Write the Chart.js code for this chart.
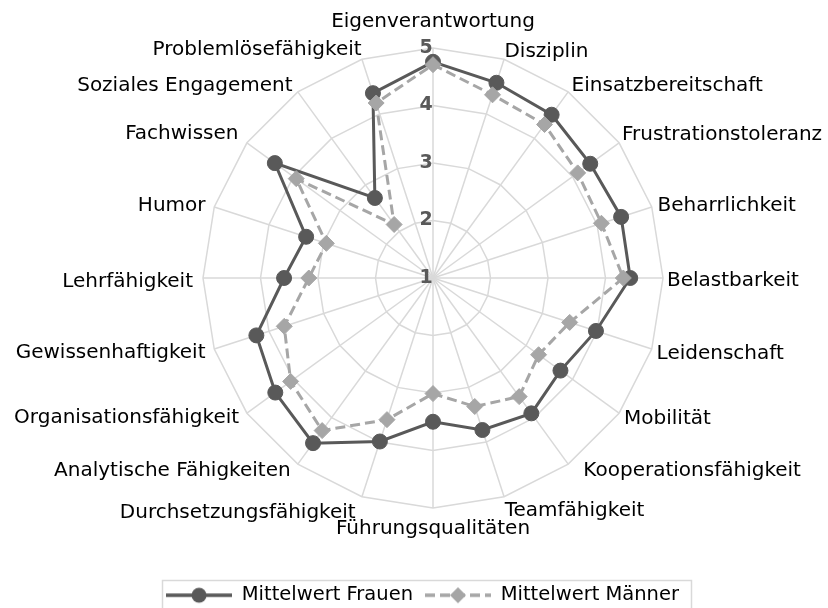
<!DOCTYPE html>
<html>
<head>
<meta charset="utf-8">
<script src="https://cdn.jsdelivr.net/npm/chart.js@4/dist/chart.umd.min.js"></script>
<style>
html,body{margin:0;padding:0;background:#ffffff;}
#wrap{width:828px;height:608px;position:relative;}
</style>
</head>
<body>
<div id="wrap"><canvas id="c" width="828" height="608"></canvas></div>
<script>
// ---- data ----
const categories = [
  'Eigenverantwortung','Disziplin','Einsatzbereitschaft','Frustrationstoleranz','Beharrlichkeit',
  'Belastbarkeit','Leidenschaft','Mobilität','Kooperationsfähigkeit','Teamfähigkeit',
  'Führungsqualitäten','Durchsetzungsfähigkeit','Analytische Fähigkeiten','Organisationsfähigkeit','Gewissenhaftigkeit',
  'Lehrfähigkeit','Humor','Fachwissen','Soziales Engagement','Problemlösefähigkeit'
];
const frauen = [4.76, 4.57, 4.51, 4.38, 4.44, 4.43, 3.98, 3.74, 3.91, 3.78,
                3.50, 3.99, 4.55, 4.39, 4.23, 3.59, 3.32, 4.40, 2.72, 4.38];
const maenner = [4.71, 4.35, 4.30, 4.11, 4.08, 4.31, 3.50, 3.27, 3.55, 3.35,
                 3.01, 3.59, 4.28, 4.06, 3.72, 3.16, 2.95, 3.94, 2.15, 4.20];
const tickValues = [1, 2, 3, 4, 5];
const seriesNames = ['Mittelwert Frauen', 'Mittelwert Männer'];

// ---- layout / style ----
const FRAME = { cx: 433, cy: 278, r: 230, tickShift: -7 };
// label placement tweaks (layout only): gap from outer ring, then small nudges
const LABEL_GAP = [16, -2, -1, 0, 4, 4, 3, 0, 2, 2, 7, 4, 2, 1, 5, 10, 5, 3, 2, 1];
const LABEL_DX  = [0, 1, 4, 3, 2, 0, 2, 5, 14, 0, 0, -5, -6, -7, -4, 0, -4, -6, -4, 0];
const LABEL_DY  = [2, 3, 5, 4, 12, 3, -8, -6, -7, 0, 2, 0, -7, -8, -10, 4, 12, 5, 7, 3];
const FONT = 'DejaVu Sans';
const DARK = '#595959';
const LIGHT = '#a6a6a6';
const GRID = '#d9d9d9';
const TICK_SIZE = 19;
const TICK_EXTRA = (TICK_SIZE + 4) / 2; // library adds half the tick backdrop height

const BaseRadial = Chart.RadialLinearScale || Chart.registry.getScale('radialLinear');
class FixedRadialScale extends BaseRadial {
  setCenterPoint() {
    this.xCenter = FRAME.cx;
    this.yCenter = FRAME.cy;
    this.drawingArea = FRAME.r;
  }
  fit() {
    super.fit();
    const items = this._pointLabelItems || [];
    items.forEach((it, i) => {
      const dx = LABEL_DX[i] || 0, dy = LABEL_DY[i] || 0;
      it.x += dx; it.left += dx; it.right += dx;
      it.y += dy; it.top += dy; it.bottom += dy;
    });
  }
  drawLabels() {
    const ctx = this.ctx;
    ctx.save();
    ctx.translate(FRAME.tickShift, 0);
    super.drawLabels();
    ctx.restore();
    // the library skips the label of the minimum tick (center); draw it from the scale's own tick
    if (this.ticks.length) {
      const t = this.options.ticks;
      const f = Chart.helpers.toFont(t.font);
      ctx.save();
      ctx.font = f.string;
      ctx.fillStyle = t.color;
      ctx.textAlign = 'center';
      ctx.textBaseline = 'middle';
      ctx.fillText(this.ticks[0].label, this.xCenter + FRAME.tickShift,
                   this.yCenter - this.getDistanceFromCenterForValue(this.ticks[0].value));
      ctx.restore();
    }
  }
}
FixedRadialScale.id = 'fixedRadial';
FixedRadialScale.defaults = {};
Chart.register(FixedRadialScale);

function legendSample(color, dash, style) {
  const w = 66;
  const cv = document.createElement('canvas');
  cv.width = w; cv.height = 20;
  const g = cv.getContext('2d');
  g.strokeStyle = color; g.fillStyle = color; g.lineWidth = 3.5;
  g.setLineDash(dash);
  g.beginPath(); g.moveTo(0, 10); g.lineTo(w, 10); g.stroke();
  g.setLineDash([]);
  g.beginPath();
  const c = w / 2;
  if (style === 'circle') {
    g.arc(c, 10, 7.5, 0, Math.PI * 2);
  } else {
    g.moveTo(c, 2); g.lineTo(c + 8, 10); g.lineTo(c, 18); g.lineTo(c - 8, 10); g.closePath();
  }
  g.fill();
  return cv;
}
const legendImgs = [legendSample(DARK, [], 'circle'), legendSample(LIGHT, [10, 5], 'diamond')];

const legendFrame = {
  id: 'legendFrame',
  afterDraw(chart) {
    const lg = chart.legend;
    const hb = lg && lg.legendHitBoxes;
    if (!hb || !hb.length) return;
    const l = Math.min(...hb.map(h => h.left)) - 4;
    const r = Math.max(...hb.map(h => h.left + h.width)) + 12;
    const cy = hb[0].top + hb[0].height / 2;
    const ctx = chart.ctx;
    ctx.save();
    ctx.strokeStyle = GRID;
    ctx.lineWidth = 1.5;
    ctx.strokeRect(Math.round(l) + 0.5, Math.round(cy - 15) + 0.5, Math.round(r - l), 40);
    ctx.restore();
  }
};

new Chart(document.getElementById('c'), {
  type: 'radar',
  data: {
    labels: categories,
    datasets: [
      {
        label: seriesNames[0], data: frauen, order: 1,
        borderColor: DARK, backgroundColor: DARK, borderWidth: 3, fill: false, tension: 0,
        pointStyle: 'circle', pointRadius: 7.5, pointBackgroundColor: DARK, pointBorderColor: DARK, pointBorderWidth: 1,
        pointHoverRadius: 7.5
      },
      {
        label: seriesNames[1], data: maenner, order: 0,
        borderColor: LIGHT, backgroundColor: LIGHT, borderWidth: 3, borderDash: [10, 5], fill: false, tension: 0,
        pointStyle: 'rectRot', pointRadius: 8, pointBackgroundColor: LIGHT, pointBorderColor: LIGHT, pointBorderWidth: 1,
        pointHoverRadius: 8
      }
    ]
  },
  options: {
    responsive: false,
    animation: false,
    layout: { padding: { bottom: -7, left: 17 } },
    scales: {
      r: {
        type: 'fixedRadial',
        min: tickValues[0],
        max: tickValues[tickValues.length - 1],
        afterBuildTicks: s => { s.ticks = tickValues.map(v => ({ value: v })); },
        ticks: {
          stepSize: 1,
          showLabelBackdrop: false,
          backdropPadding: 2,
          color: DARK,
          font: { family: FONT, size: TICK_SIZE, weight: 'bold' },
          callback: v => String(v)
        },
        grid: { color: GRID, lineWidth: 1.5, circular: false },
        angleLines: { display: true, color: GRID, lineWidth: 1.5 },
        pointLabels: {
          color: '#000000',
          font: { family: FONT, size: 20 },
          padding: c => LABEL_GAP[c.index] - TICK_EXTRA
        }
      }
    },
    plugins: {
      tooltip: { enabled: false },
      legend: {
        position: 'bottom',
        labels: {
          usePointStyle: true,
          pointStyleWidth: 66,
          boxHeight: 19,
          padding: 12,
          color: '#000000',
          font: { family: FONT, size: 19.5 },
          generateLabels: chart => chart.data.datasets.map((ds, i) => ({
            text: ds.label,
            fillStyle: ds.borderColor,
            strokeStyle: ds.borderColor,
            lineWidth: 0,
            pointStyle: legendImgs[i],
            hidden: false,
            datasetIndex: i,
            fontColor: '#000000'
          }))
        }
      }
    }
  },
  plugins: [legendFrame]
});
</script>
</body>
</html>
